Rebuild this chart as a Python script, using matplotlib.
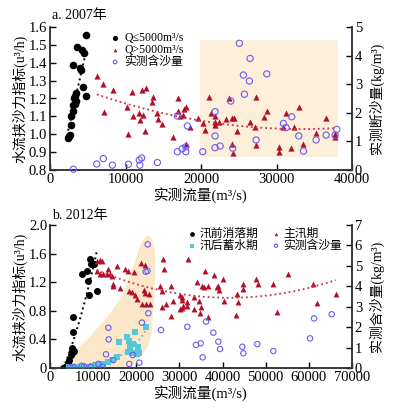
import matplotlib
matplotlib.use('Agg')
import matplotlib.pyplot as plt
from matplotlib.patches import Rectangle, Polygon
import numpy as np

plt.rcParams['font.family'] = ['Liberation Serif', 'Noto Sans CJK SC', 'DejaVu Sans']
plt.rcParams['axes.unicode_minus'] = False

RED = "#b0102a"
RED_LINE = "#d0304a"
BLUE = "#6b5bef"
CYAN = "#55c8dc"
SPINE = "#333333"

# ── 2007: Q <= 5000 ───────────────────────────────────────────────────────────
q07_low = [4770, 3530, 4280, 4550, 3090, 3980, 4100, 4330, 4770, 3450, 3300,
           3200, 3450, 3000, 3250, 3050, 2800, 2740, 2650, 2430, 2500]
y07_low = [1.555, 1.49, 1.47, 1.455, 1.387, 1.372, 1.36, 1.266, 1.214, 1.232, 1.215,
           1.20, 1.185, 1.165, 1.17, 1.13, 1.10, 1.05, 0.996, 0.977, 0.99]

# ── 2007: Q > 5000 ────────────────────────────────────────────────────────────
q07_high = [6190, 7070, 8300, 7150, 10160, 10820, 12200, 12700, 11050, 11800, 12350,
            11900, 13700, 13480, 14130, 14300, 14790, 10380, 12600, 16350, 17000,
            16900, 17270, 17600, 17800, 18000, 18020, 18550, 19540, 20300, 20540,
            21100, 21290, 21860, 21860, 21900, 22430, 23280, 23760, 24040, 24350,
            24160, 24290, 24730, 26500, 27160, 27300, 27300, 28360, 28700, 30340,
            30340, 31270, 30830, 31980, 32330, 32950, 33570, 35250, 36570, 37760, 37700]
y07_high = [1.326, 1.279, 1.25, 1.125, 1.15, 1.238, 1.245, 1.26, 1.10, 1.12, 1.105,
            1.08, 1.21, 1.18, 1.12, 1.085, 1.06, 1.0, 1.02, 0.985, 1.2,
            1.13, 1.1, 1.105, 1.14, 1.15, 0.945, 1.04, 1.09, 1.065, 1.024,
            1.21, 1.12, 1.104, 1.05, 1.07, 1.07, 1.085, 1.205, 1.09, 1.09,
            0.945, 0.893, 1.018, 1.067, 1.039, 1.21, 0.94, 1.095, 1.132, 0.929,
            0.90, 1.12, 1.042, 0.923, 1.042, 1.151, 0.945, 1.005, 1.089, 0.986, 1.0]

# ── 2007: measured sediment (kg/m3) ──────────────────────────────────────────
q07_sed = [3090, 6190, 7070, 8260, 10380, 11830, 12140, 11900, 14220, 16870, 17500,
           17980, 17980, 16870, 18200, 20230, 21860, 21860, 21860, 22530, 23940,
           24200, 25080, 25610, 25750, 26410, 26500, 27300, 28710, 30920, 31270,
           32020, 32950, 33570, 35250, 36570, 37760, 37990]
s07_sed = [0.03, 0.21, 0.40, 0.17, 0.2, 0.35, 0.42, 0.17, 0.26, 0.64, 0.74,
           0.81, 0.64, 1.89, 1.54, 0.64, 2.04, 1.19, 0.78, 0.84, 2.41,
           0.76, 4.43, 3.32, 2.65, 3.11, 3.9, 1.05, 3.36, 1.63, 1.48,
           1.86, 1.19, 0.66, 1.05, 1.22, 1.22, 1.42]

# trend lines 2007 (polynomials in Q/1e4)
fit07_low_q = [2400, 4700]
fit07_low_y = [1.02, 1.45]
fit07_high_coef = [0.02646, -0.17607, 1.32199]
fit07_high_range = [6200, 38000]
box07_q = [19900, 38200]
box07_y = [0.87, 1.53]

# ── 2012 ─────────────────────────────────────────────────────────────────────
q12_pre = [9270, 9430, 9660, 10200, 8600, 7340, 8880, 9040, 10900, 5260, 5260,
           5030, 5150, 5400, 5250, 5550, 4800, 4400, 4250, 3900, 3090, 3500]
y12_pre = [1.52, 1.46, 1.47, 1.46, 1.36, 1.31, 1.21, 1.02, 1.08, 0.71, 0.50,
           0.275, 0.24, 0.22, 0.25, 0.24, 0.18, 0.11, 0.065, 0.03, 0.0, 0.02]

q12_post = [22250, 19800, 17900, 18300, 16000, 19320, 20320, 18540, 19160, 20090,
            20600, 18150, 15450, 14300, 13520, 12360, 10820, 9620, 8470, 7500,
            6140, 5200, 4400]
y12_post = [0.57, 0.51, 0.44, 0.38, 0.36, 0.34, 0.29, 0.29, 0.21, 0.20,
            0.21, 0.22, 0.16, 0.11, 0.08, 0.06, 0.04, 0.03, 0.02, 0.02,
            0.01, 0.01, 0.01]

q12_main = [10820, 11590, 11980, 10970, 11590, 12360, 13200, 13520, 14000, 14300,
            14680, 14500, 15450, 16230, 17390, 18150, 19470, 18380, 19000, 19700,
            20090, 21020, 22020, 21790, 22100, 22870, 21250, 22200, 23180,
            26120, 26500, 31920, 25500, 25890, 27970, 26890, 25890, 28430, 28120,
            30130, 30500, 30520, 30900, 30700, 30200, 31690, 31690, 33380, 33450,
            34150, 35160, 34610, 34930, 34770, 35930, 36550, 38090, 38870, 39250,
            40330, 40180, 38650, 36550, 35700, 43350, 43650, 43120, 44810, 44810,
            47750, 48290, 51760, 52700, 55240, 61040, 61960, 66220]
y12_main = [1.50, 1.51, 1.49, 1.35, 1.32, 1.31, 1.32, 1.38, 1.31, 1.28,
            1.17, 1.15, 1.42, 1.12, 1.38, 1.36, 1.34, 1.07, 1.06, 1.02,
            0.97, 1.47, 1.44, 1.09, 1.05, 1.03, 0.90, 0.90, 0.90,
            1.53, 1.38, 1.52, 1.14, 1.08, 1.15, 0.895, 0.85, 0.94, 0.73,
            1.02, 1.00, 0.95, 0.87, 0.84, 0.83, 0.87, 0.93, 1.00, 0.82,
            1.20, 1.14, 0.94, 0.85, 0.765, 1.36, 0.71, 1.30, 1.15, 1.09,
            0.94, 1.24, 1.13, 1.15, 1.13, 1.04, 0.92, 0.74, 1.18, 1.11,
            1.24, 1.18, 1.18, 0.78, 1.32, 1.18, 0.91, 1.04]

q12_sed = [22650, 22180, 22600, 22790, 13520, 13600, 21300, 12980, 14680, 19170,
           18380, 20700, 11200, 12210, 7340, 7900, 5400, 4700, 9430, 25730,
           31830, 33840, 34930, 35390, 36160, 37860, 39020, 39410, 44580, 44810,
           48060, 51760, 60270, 61200, 65300]
s12_sed = [6.05, 4.71, 4.75, 2.68, 1.97, 1.40, 2.22, 0.67, 0.39, 0.64,
           0.20, 0.26, 0.2, 0.06, 0.11, 0.08, 0.06, 0.05, 0.06, 1.86,
           2.02, 1.13, 1.21, 0.52, 2.27, 1.73, 1.29, 0.93, 1.04, 0.72,
           1.17, 0.83, 1.45, 2.43, 2.63]

fit12_pre_coef = [0.8292, 0.9513, -0.3746]
fit12_pre_range = [3100, 10800]
fit12_main_coef = [0.0409, -0.3402, 1.6897]
fit12_main_range = [10800, 66200]
fit12_post_a, fit12_post_b = 0.00795, 1.89e-4
fit12_post_range = [4500, 22200]

blob_q = [1500, 5000, 9300, 13900, 17000, 19300, 20900, 22000, 22800, 23700, 24300,
          24400, 24200, 23900, 23600, 22700, 21600, 19300, 17000, 10000]
blob_y = [-0.02, 0.20, 0.44, 0.76, 1.04, 1.42, 1.72, 1.83, 1.86, 1.80, 1.65,
          1.42, 1.00, 0.80, 0.50, 0.30, 0.20, 0.06, -0.02, -0.05]


def style(ax, ax2):
    for a in (ax, ax2):
        a.spines["top"].set_visible(False)
        for s in ("left", "right", "bottom"):
            a.spines[s].set_color(SPINE)
            a.spines[s].set_linewidth(1.1)
        a.tick_params(direction="in", length=4, width=1, colors="black",
                      labelsize=10.5, pad=2)


fig = plt.figure(figsize=(3.96, 4.11), dpi=100)

# ── panel a ──────────────────────────────────────────────────────────────────
ax = fig.add_axes([50/396, 1-170/411, 302/396, 143/411])
ax2 = ax.twinx()
style(ax, ax2)

ax.add_patch(Rectangle((box07_q[0], box07_y[0]), box07_q[1]-box07_q[0],
                       box07_y[1]-box07_y[0], facecolor="#fdefd9", edgecolor="none", zorder=0))
ax.scatter(q07_low, y07_low, s=20, color="black", zorder=3, label="Q≤5000m³/s")
ax.scatter(q07_high, y07_high, s=20, marker="^", color=RED, zorder=3,
           label="Q>5000m³/s", linewidths=0)
ax.plot(fit07_low_q, fit07_low_y, ls=":", color="black", lw=1.4, zorder=4)
qq = np.linspace(*fit07_high_range, 100)
ax.plot(qq, np.polyval(fit07_high_coef, qq/1e4), ls=":", color=RED_LINE, lw=1.3, zorder=4)
ax2.scatter(q07_sed, s07_sed, s=20, facecolors="none", edgecolors=BLUE,
            linewidths=0.8, zorder=3, clip_on=False, label="实测含沙量")

ax.set_xlim(0, 40000)
ax.set_ylim(0.8, 1.6)
ax.set_xticks([0, 10000, 20000, 30000, 40000])
ax.set_yticks(np.arange(0.8, 1.61, 0.1))
ax.set_yticklabels([f"{v:.1f}" for v in np.arange(0.8, 1.61, 0.1)])
ax2.set_ylim(0, 5)
ax2.set_yticks([0, 1, 2, 3, 4, 5])
ax.set_ylabel("水流挟沙力指标(u³/h)", fontsize=10, labelpad=1)
ax2.set_ylabel("实测断沙量(kg/m³)", fontsize=10, labelpad=5)
ax.set_xlabel("实测流量(m³/s)", fontsize=10.5, labelpad=1)
fig.text(52/396, 1-15/411, "a. 2007年", fontsize=10, ha="left", va="center")

h1, l1 = ax.get_legend_handles_labels()
h2, l2 = ax2.get_legend_handles_labels()
ax2.legend(h1+h2, l1+l2, loc="upper left", bbox_to_anchor=(0.2, 0.965),
           frameon=False, fontsize=8.5, handlelength=0.8, handletextpad=0.4,
           labelspacing=0.0, borderpad=0, borderaxespad=0, markerscale=0.6)

# ── panel b ──────────────────────────────────────────────────────────────────
bx = fig.add_axes([50/396, 1-368/411, 302/396, 143/411])
bx2 = bx.twinx()
style(bx, bx2)

bx.add_patch(Polygon(np.column_stack([blob_q, blob_y]), closed=True,
                     facecolor="#fce7c8", edgecolor="none", zorder=0))
bx.scatter(q12_pre, y12_pre, s=16, color="black", zorder=3, label="汛前消落期")
bx.scatter(q12_post, y12_post, s=14, marker="s", color=CYAN, zorder=3,
           label="汛后蓄水期", linewidths=0)
bx.scatter(q12_main, y12_main, s=18, marker="^", color=RED, zorder=3,
           label="主汛期", linewidths=0)
qq = np.linspace(*fit12_pre_range, 100)
bx.plot(qq, np.polyval(fit12_pre_coef, qq/1e4), ls=":", color="black", lw=1.4, zorder=4)
qq = np.linspace(*fit12_main_range, 100)
bx.plot(qq, np.polyval(fit12_main_coef, qq/1e4), ls=":", color=RED_LINE, lw=1.3, zorder=4)
qq = np.linspace(*fit12_post_range, 100)
bx.plot(qq, fit12_post_a*np.exp(fit12_post_b*qq), ls=":", color=CYAN, lw=1.3, zorder=4)
bx2.scatter(q12_sed, s12_sed, s=15, facecolors="none", edgecolors=BLUE,
            linewidths=0.8, zorder=3, label="实测含沙量")

bx.set_xlim(0, 70000)
bx.set_ylim(0, 2.0)
bx.set_xticks(np.arange(0, 70001, 10000))
bx.set_yticks([0, 0.4, 0.8, 1.2, 1.6, 2.0])
bx.set_yticklabels(["0", "0.4", "0.8", "1.2", "1.6", "2.0"])
bx2.set_ylim(0, 7)
bx2.set_yticks(range(8))
bx.set_ylabel("水流挟沙力指标(u³/h)", fontsize=10, labelpad=1)
bx2.set_ylabel("实测含沙量(kg/m³)", fontsize=10, labelpad=5)
bx.set_xlabel("实测流量(m³/s)", fontsize=10.5, labelpad=1)
fig.text(52/396, 1-215/411, "b. 2012年", fontsize=10, ha="left", va="center")

h1, l1 = bx.get_legend_handles_labels()
h2, l2 = bx2.get_legend_handles_labels()
bx2.legend(h1+h2, l1+l2, loc="upper left", bbox_to_anchor=(0.46, 0.98), ncol=2,
           frameon=False, fontsize=8.5, handlelength=0.6, handletextpad=0.3,
           labelspacing=0.0, columnspacing=1.2, borderpad=0, borderaxespad=0,
           markerscale=0.6)

fig.savefig("out.png", dpi=100)
